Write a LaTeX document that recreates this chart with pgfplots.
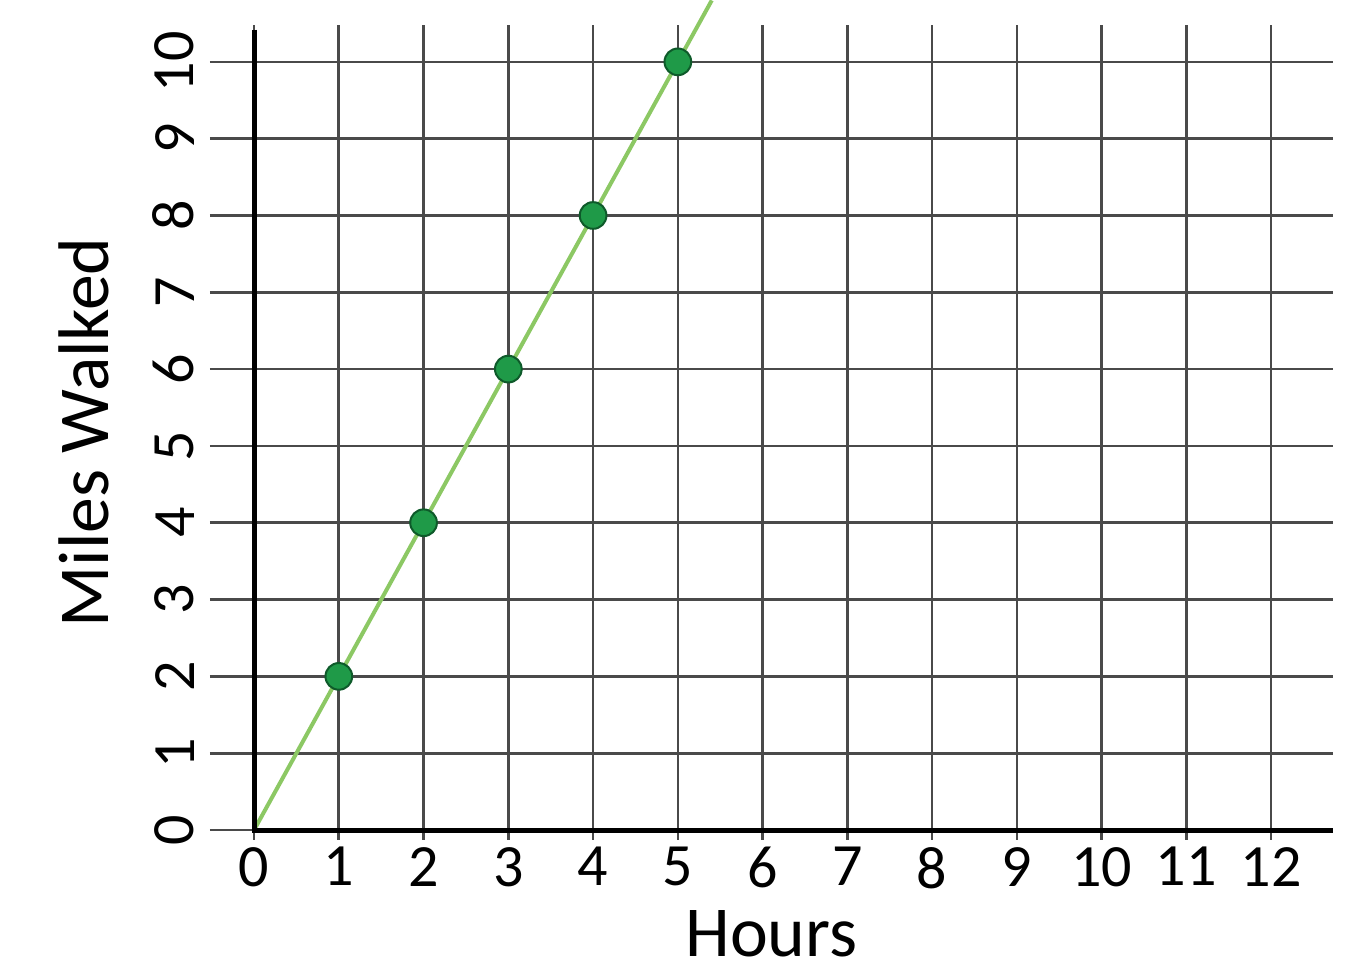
\documentclass[border=0pt]{standalone}
\usepackage{pgfplots}
\pgfplotsset{compat=1.18}
\usepackage{fontspec}
\setmainfont{Carlito}
\definecolor{gridgray}{HTML}{4A4A4A}
\definecolor{linegreen}{HTML}{8CC864}
\definecolor{dotgreen}{HTML}{1F9A48}
\definecolor{dotedge}{HTML}{0E5A2A}
\begin{document}
\begin{tikzpicture}
\begin{axis}[
  scale only axis, width=336.9pt, height=244.5pt,
  xmin=-0.52, xmax=12.73, ymin=-0.13, ymax=10.48,
  xtick={0,...,12}, ytick={0,...,10},
  grid=major, major grid style={gridgray, line width=0.8pt},
  axis line style={draw=none}, major tick style={draw=none},
  clip=false,
  ticklabel style={font=\fontsize{18}{18}\selectfont},
  /pgf/number format/assume math mode=true,
  xticklabel style={anchor=north, inner sep=1pt, yshift=-1pt},
  % rotated labels: yshift moves them left
  yticklabel style={rotate=90, anchor=south, inner sep=1pt, yshift=3.5pt},
  xlabel={Hours}, ylabel={Miles Walked},
  label style={font=\fontsize{21.5}{21.5}\selectfont},
  xlabel style={at={(axis description cs:0.5,0)}, anchor=base, yshift=-35pt, inner sep=0pt},
  ylabel style={at={(axis description cs:0,0.5)}, anchor=south, yshift=30pt, inner sep=0pt},
]
\addplot[linegreen, line width=1.2pt] coordinates {(0,0) (5.4,10.8)};
\addplot[only marks, mark=*, mark size=4pt, mark options={fill=dotgreen, draw=dotedge, line width=0.6pt}]
  coordinates {(1,2) (2,4) (3,6) (4,8) (5,10)};
\draw[black, line width=1.5pt] (axis cs:0,10.42) -- (axis cs:0,0) -- (axis cs:12.73,0);
\coordinate (bl) at (rel axis cs:0,0);
\coordinate (tr) at (rel axis cs:1,1);
\end{axis}
\path (bl) ++(-63pt,-38.4pt) coordinate (a);
\path (tr) ++(11.7pt,7.5pt) coordinate (b);
\pgfresetboundingbox
\useasboundingbox (a) rectangle (b);
\end{tikzpicture}
\end{document}
